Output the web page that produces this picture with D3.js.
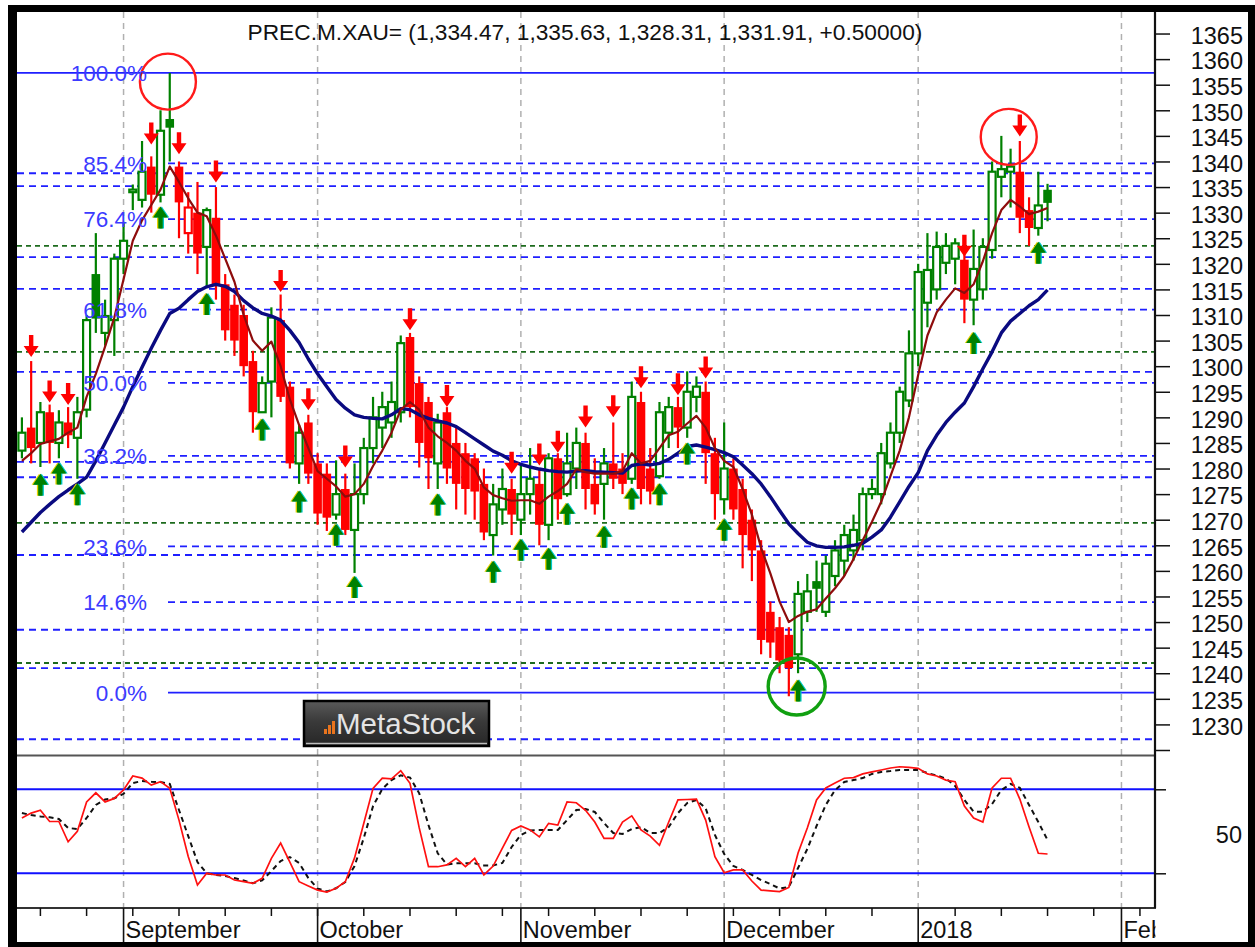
<!DOCTYPE html>
<html>
<head>
<meta charset="utf-8">
<script src="https://cdn.jsdelivr.net/npm/d3@7"></script>
<style>
  body { margin: 0; background: #fff; }
  svg { display: block; }
  text { font-family: Arial, "Liberation Sans", sans-serif; }
</style>
</head>
<body>
<div id="chart"></div>
<script>
// ---------------- data ----------------
const symbol = "PREC.M.XAU=";
const firstDay = "2017-08-17", lastAxisDay = "2018-02-06";
const holidays = ["2018-01-01"];

// daily OHLC, one value per trading day from Aug 17 2017
const opens = [
  1283.5,1288,1285,1291,1285,1289,1286,1291.5,1318,1306.5,
  1309,1321,1334,1332.5,1339,1333.5,1348.3,1339,1326,1330,
  1323.3,1329,1316,1312,1310,1301,1291,1297,1309,1296,
  1281,1289,1281,1279,1271,1276,1268,1275,1284,1288,
  1289,1291,1305.7,1296.7,1293,1281,1291,1285,1283,1282,
  1277,1267,1272,1276,1270,1275,1277,1269,1282,1275,
  1280,1285,1277,1277,1281,1280,1278,1293,1280,1278.5,
  1287,1292,1288,1294,1295,1283,1274,1280,1276,1270,
  1264,1252,1249,1247.5,1243.7,1252,1258,1252,1259,1262,
  1264,1266,1275,1275,1281,1287,1293.3,1302.5,1312.4,1315,
  1320.2,1321,1320.8,1313,1315,1322.7,1337,1338,1338,1330.5,
  1327,1334.47];
const highs = [
  1290,1301,1293,1292.5,1291.4,1292,1294,1310,1326,1313,
  1322,1328,1335.5,1344,1341,1350,1357.3,1340,1334,1336,
  1331,1335,1318,1314,1312,1303,1298,1311.5,1314,1297,
  1288.5,1290.5,1283,1281,1281.6,1279,1281,1286,1294,1295,
  1297,1306,1306.5,1298,1294,1290.7,1292,1288,1285,1283,
  1280,1277,1280,1278,1281,1284,1280,1283,1283,1287,
  1288,1287,1282,1284,1289,1283,1297,1295,1284,1293,
  1294,1294,1299,1298,1297,1286,1289,1282,1278,1272,
  1266,1254,1251,1249,1258,1259.4,1262,1263,1266,1269,
  1271,1276.3,1278,1285,1289,1296,1307,1320,1326,1326.3,
  1326,1325,1322,1326.7,1325,1340,1345,1342.5,1344,1333,
  1338,1335.63];
const lows = [
  1282,1281,1280.3,1281,1282,1284,1278,1290,1306.5,1304,
  1302,1318,1330.5,1331,1330,1332,1340,1325,1322,1318,
  1315.5,1313,1305,1302,1298,1287,1291,1290,1293,1280,
  1277,1277,1269,1267.8,1270,1267,1259.6,1273,1281,1284,
  1286,1289,1290,1280.2,1276,1276,1277,1272,1271,1270,
  1266,1263,1269,1267,1267,1271,1265,1266,1270,1274.5,
  1276,1272,1271,1270,1276,1275,1277,1273,1273,1278,
  1284,1284,1286,1291,1277,1270,1271,1270,1260.5,1258,
  1243.7,1243,1240,1235.5,1240,1250,1252,1251,1257,1259,
  1262,1264,1274,1273,1280,1285,1292,1300,1307.6,1313,
  1318,1316,1308.4,1308,1313,1321,1333,1331,1326,1323.5,
  1325.5,1328.31];
const closes = [
  1287,1284,1291,1285,1289,1286.5,1291,1309,1309.3,1309.8,
  1321,1324.5,1334.5,1338,1333.5,1346,1346.6,1332,1331,1322,
  1330.5,1316,1307,1305,1300,1291,1296.7,1309.5,1294,1281,
  1287,1279,1271.2,1270.4,1275,1268,1275,1284,1290,1292,
  1293,1304.5,1292,1285,1282,1289,1280,1277,1276,1275.5,
  1267.5,1273,1276,1271,1275,1278,1269,1282,1274,1281,
  1285,1276,1273,1281,1278,1277,1294,1276,1275.5,1291,
  1292,1288,1295,1296,1283,1275,1280,1272,1267,1264,
  1246.5,1246,1242.5,1241,1255.5,1256,1256.5,1261.4,1264,1267,
  1268,1275,1276,1283,1287,1295,1302.5,1318.4,1318.8,1323.3,
  1323.5,1324,1313,1319,1323.3,1338,1338.5,1339,1329,1327,
  1331.41,1331.91];

// fast (thin dark red) and slow (thick navy) moving averages, per bar
const fastMA = [
  1281.5,1283,1284.8,1285.3,1285.8,1287,1288,1294,1298.5,1303.8,
  1309.5,1317,1324.5,1328.5,1331.5,1334.5,1339,1336,1332.8,1330,
  1329.3,1325.5,1321,1316.5,1310,1305,1303,1304.8,1300,1293.5,
  1288.5,1284,1279.5,1278,1276.5,1274.5,1275,1277,1280.5,1283.5,
  1287,1291.5,1293,1291.5,1288,1286.3,1285,1283.5,1281.5,1280,
  1276.3,1274.8,1274.2,1273.7,1273.8,1273.8,1273.1,1274.5,1275.6,1277,
  1279.9,1279.3,1279,1279,1279,1279.5,1283,1281,1281.5,1284,
  1286.5,1287.2,1288.8,1290.3,1288,1284,1281.5,1280.3,1276,1271,
  1264.5,1259.5,1254,1250,1251.2,1252,1252.5,1254.6,1256.6,1259,
  1262.3,1266,1269.6,1273.5,1278.5,1283.5,1290,1298.3,1306,1310.5,
  1313,1315.2,1314.3,1316,1320.5,1326,1330.5,1332.5,1331.2,1329.7,
  1330.2,1330.9];
const slowMA = [
  1267.6,1269.5,1271.4,1273,1274.5,1275.8,1277,1278.3,1281.5,1285,
  1288.5,1292,1296,1299.8,1303.5,1307,1310.3,1311.3,1313,1314.6,
  1315.5,1316,1315.6,1314.6,1312.8,1311.4,1310.3,1309.8,1309,1307,
  1304.6,1301.4,1298.5,1296,1293.5,1291.8,1290.5,1290,1289.8,1289.7,
  1290.5,1291.7,1291.5,1290.5,1289.8,1289.3,1288.9,1288.2,1287,1285.8,
  1284.6,1283.4,1282.6,1281.5,1280.8,1280.3,1279.9,1279.6,1279.4,1279.3,
  1279.5,1279.6,1279.4,1279.3,1279.2,1279.1,1280.6,1280.9,1280.7,1281,
  1281.8,1283,1284.3,1284.6,1284.2,1283.7,1283.1,1282.3,1280.7,1279,
  1277,1274.5,1271.8,1269.2,1267.3,1265.6,1264.9,1264.6,1264.6,1264.7,
  1265,1265.4,1266.6,1268,1270.5,1273.5,1276.5,1279.2,1283.5,1286.5,
  1289,1291,1292.8,1296,1299.5,1302.8,1306.5,1308.8,1310.3,1311.8,
  1313,1314.9];

// stochastic oscillator %K (red) and %D (black dashed)
const stochK = [
  59.5,63,65,57,57,42.5,50,71,77.5,71,
  73.5,79.5,89.5,88,83,85.5,80.7,58,32,11.6,
  20,18.8,18.8,15.2,14,12.9,16.4,30.7,41.6,28,
  14,11,8,6.6,9.3,14,31,55.7,80.7,87.9,
  87.4,93.3,84.3,52.4,24.7,24.7,26,30.7,24.7,30.7,
  18.8,25.2,38,50.6,53.8,51,46,55.7,54.5,71,
  70.4,65,56.6,45,45,56.6,61,51,46.6,40,
  56.6,72.4,72.7,72.9,58,31.9,20.4,22.4,22.4,14.5,
  8,7.4,6.9,9.9,34.5,52.4,72.4,81,84.5,87.9,
  88.4,91,92.4,93.8,95.2,96.1,95.6,95,91,89.5,
  86.6,85.4,68,59.5,56.6,81,87.9,87.9,73,53,
  34.3,33.8];
const stochD = [
  63,61.6,60.6,60,58.8,52.4,51.6,59.5,68.8,72.7,
  73.6,76.8,84.5,85.9,85.4,85.2,83.8,65.2,46.6,28,
  20,18.8,18,16.6,14.9,12.9,14.9,21.6,28.8,31.6,
  27.4,16.6,9.1,7,9.3,13.8,25.2,45.2,68,80.2,
  86.6,90,88.4,77.1,54.5,34.3,26.3,27.1,27.1,27.1,
  25.6,25.6,27.4,38.8,47.4,50.6,50.9,50.9,50.9,58,
  65.2,65.9,63.8,55.9,48.8,48.1,51.6,53,48.8,48.8,
  53,63,70.2,72.4,66.4,47.4,33.8,25.2,22.4,18.8,
  15.2,12.4,9.1,10.2,23.8,37.4,53.8,68.8,79.5,85.2,
  86.6,88,91,92.4,93,93.8,93.8,93.8,91.6,89.9,
  87.7,82.4,72.4,64,64,69.5,79.5,83.8,81,68.8,
  56.6,43.8];
const stochBands = [20, 80];

// signal arrows: bar index and price at arrow tip
const sellBars = [1,3,5,14,17,21,28,31,35,42,46,53,56,58,61,64,67,71,74,102,108];
const sellTips = [1301.8,1292.9,1292.4,1343.3,1341.4,1335.9,1314.5,1291.4,1280.2,1307,1292,1279,1280.6,1283.1,1288,1290,1295.7,1294.3,1297.6,1321.4,1344.9];
const buyBars = [2,4,6,15,20,26,30,34,36,45,51,54,57,59,63,66,69,72,76,84,103,110];
const buyTips = [1279,1281.2,1277.1,1331.2,1314.3,1289.8,1275.7,1269.2,1259,1275.1,1262,1266.3,1264.5,1273.3,1268.8,1276.3,1277.1,1285.1,1270.2,1238.8,1306.7,1324.3];

// highlighted turning points: bar position, price, colour
const marks = [
  {k: 15.8, p: 1355.6, c: "#ff1a1a"},
  {k: 106.8, p: 1344.8, c: "#ff1a1a"},
  {k: 83.85, p: 1237.4, c: "#11a011"}
];

// Fibonacci retracement from the Dec low to the Sept high
const fibLow = 1236.2, fibHigh = 1357.3;
const fibPct = [0, 14.6, 23.6, 38.2, 50, 61.8, 76.4, 85.4, 100];
const extraBlue = [1337.7, 1335.2, 1321.3, 1315.1, 1298.9, 1281.3, 1278.3, 1263.1, 1248.5, 1241.0, 1227.1];
const extraGreen = [1323.5, 1302.8, 1269.4, 1242.0];

const months = [
  {label: "September", day: "2017-09-01"},
  {label: "October", day: "2017-10-02"},
  {label: "November", day: "2017-11-01"},
  {label: "December", day: "2017-12-01"},
  {label: "2018", day: "2018-01-02"},
  {label: "February", day: "2018-02-01"}
];

// ---------------- layout ----------------
const W = 1255, H = 947;
const L = 17, R = 1155;
const pTop = 12, pBot = 755, sTop = 757, sBot = 908, axBot = 942;

const parse = d3.timeParse("%Y-%m-%d"), fmt = d3.timeFormat("%Y-%m-%d");
const days = d3.timeDay.range(parse(firstDay), d3.timeDay.offset(parse(lastAxisDay), 1))
  .filter(d => d.getDay() % 6 !== 0 && !holidays.includes(fmt(d)))
  .map(fmt);

const x = d3.scaleBand().domain(days).range([17.3, 1153.8]);
const cx = d => x(d) + x.bandwidth() / 2;
const xk = d3.scaleLinear().domain([0, days.length - 1]).range([cx(days[0]), cx(days[days.length - 1])]);
const y = d3.scaleLinear().domain([1225, 1310]).range([750, 315]);
const ys = d3.scaleLinear().domain([20, 80]).range([873.3, 789.3]);

const bars = closes.map((c, i) => ({
  d: days[i], o: opens[i], h: highs[i], l: lows[i], c,
  up: i === 0 ? c >= opens[i] : c >= closes[i - 1]
}));

const GREEN = "#008000", RED = "#ff0000", BLUE = "#1f1fff";

const svg = d3.select("#chart").append("svg").attr("width", W).attr("height", H);

// frame
svg.append("rect").attr("x", 8).attr("y", 5).attr("width", W - 8).attr("height", H - 5).attr("fill", "#000");
svg.append("rect").attr("x", L).attr("y", pTop).attr("width", 1248 - L).attr("height", axBot - pTop).attr("fill", "#fff");

const defs = svg.append("defs");
defs.append("clipPath").attr("id", "cp").append("rect")
  .attr("x", L).attr("y", pTop).attr("width", R - L).attr("height", pBot - pTop);
defs.append("clipPath").attr("id", "cs").append("rect")
  .attr("x", L).attr("y", sTop).attr("width", R - L).attr("height", sBot - sTop);
defs.append("clipPath").attr("id", "cx").append("rect")
  .attr("x", L).attr("y", sBot).attr("width", R - L + 0.5).attr("height", axBot - sBot);
const grad = defs.append("linearGradient").attr("id", "logo").attr("x1", 0).attr("y1", 0).attr("x2", 0).attr("y2", 1);
grad.append("stop").attr("offset", "0%").attr("stop-color", "#5a5a5a");
grad.append("stop").attr("offset", "45%").attr("stop-color", "#3a3a3a");
grad.append("stop").attr("offset", "100%").attr("stop-color", "#262626");

// month grid lines (both panels)
svg.append("g").selectAll("line").data(months).join("line")
  .attr("x1", d => cx(d.day)).attr("x2", d => cx(d.day))
  .attr("y1", pTop).attr("y2", sBot)
  .attr("stroke", "#b0b0b0").attr("stroke-width", 1.5).attr("stroke-dasharray", "6,5");

// ---------------- price panel ----------------
const pg = svg.append("g").attr("clip-path", "url(#cp)");

pg.append("g").selectAll("line").data(extraBlue).join("line")
  .attr("x1", L).attr("x2", R).attr("y1", d => y(d)).attr("y2", d => y(d))
  .attr("stroke", BLUE).attr("stroke-width", 1.8).attr("stroke-dasharray", "7,5");
pg.append("g").selectAll("line").data(extraGreen).join("line")
  .attr("x1", L).attr("x2", R).attr("y1", d => y(d)).attr("y2", d => y(d))
  .attr("stroke", "#1d6b1d").attr("stroke-width", 1.8).attr("stroke-dasharray", "5,4");

const fib = fibPct.map(p => ({p, v: fibLow + (fibHigh - fibLow) * p / 100}));
pg.append("g").selectAll("line").data(fib).join("line")
  .attr("x1", d => d.p === 100 ? L : 168).attr("x2", R)
  .attr("y1", d => y(d.v)).attr("y2", d => y(d.v))
  .attr("stroke", BLUE).attr("stroke-width", 1.8)
  .attr("stroke-dasharray", d => (d.p === 0 || d.p === 100) ? null : "7,5");

// candles: hollow when close > open, colour by close vs previous close
const cg = pg.append("g");
cg.selectAll("line").data(bars).join("line")
  .attr("x1", d => cx(d.d)).attr("x2", d => cx(d.d))
  .attr("y1", d => y(d.h)).attr("y2", d => y(d.l))
  .attr("stroke", d => d.up ? GREEN : RED).attr("stroke-width", 2.2);
cg.selectAll("rect").data(bars).join("rect")
  .attr("x", d => d.c > d.o ? cx(d.d) - 3.5 : cx(d.d) - 4.3)
  .attr("width", d => d.c > d.o ? 7 : 8.6)
  .attr("y", d => y(Math.max(d.o, d.c)))
  .attr("height", d => Math.max(1.5, Math.abs(y(d.o) - y(d.c))))
  .attr("fill", d => d.c > d.o ? "#fff" : (d.up ? GREEN : RED))
  .attr("stroke", d => d.c > d.o ? (d.up ? GREEN : RED) : "none")
  .attr("stroke-width", 2.2);

// moving averages
const maLine = d3.line().x((v, i) => cx(days[i])).y(v => y(v));
pg.append("path").attr("d", maLine(slowMA)).attr("fill", "none")
  .attr("stroke", "#0a0a80").attr("stroke-width", 3.4).attr("stroke-linejoin", "round");
pg.append("path").attr("d", maLine(fastMA)).attr("fill", "none")
  .attr("stroke", "#8e0c0c").attr("stroke-width", 2.2).attr("stroke-linejoin", "round");

// arrows
const downArrow = "M-2.2,-22H2.2V-11H7.5L0,0L-7.5,-11H-2.2Z";
const upArrow = "M-2.2,22H2.2V11H7.5L0,0L-7.5,11H-2.2Z";
const ag = pg.append("g");
ag.selectAll("path.s").data(sellBars).join("path").attr("class", "s")
  .attr("d", downArrow).attr("fill", RED)
  .attr("transform", (k, i) => `translate(${cx(days[k])},${y(sellTips[i])})`);
[["#e8d000", -1.3], ["#00c8c8", 1.3], [GREEN, 0]].forEach(([col, dx]) => {
  ag.append("g").selectAll("path").data(buyBars).join("path")
    .attr("d", upArrow).attr("fill", col)
    .attr("transform", (k, i) => `translate(${cx(days[k]) + dx},${y(buyTips[i])})`);
});

// circles
pg.append("g").selectAll("circle").data(marks).join("circle")
  .attr("cx", d => xk(d.k)).attr("cy", d => y(d.p))
  .attr("r", d => d.c === "#11a011" ? 28.5 : 28)
  .attr("fill", "none").attr("stroke", d => d.c)
  .attr("stroke-width", d => d.c === "#11a011" ? 3.4 : 2.4);

// fib labels
pg.append("g").selectAll("text").data(fib).join("text")
  .attr("x", 147).attr("y", d => y(d.v)).attr("dy", "0.36em")
  .attr("text-anchor", "end").attr("font-size", 22.5).attr("fill", "#3b3bff")
  .text(d => d3.format(".1f")(d.p) + "%");

// title
const n = closes.length;
const f2 = d3.format(",.2f");
svg.append("text").attr("x", 585).attr("y", 40).attr("text-anchor", "middle")
  .attr("font-size", 22.7).attr("fill", "#111")
  .text(`${symbol} (${f2(opens[n - 1])}, ${f2(highs[n - 1])}, ${f2(lows[n - 1])}, ${f2(closes[n - 1])}, ${d3.format("+.5f")(closes[n - 1] - closes[n - 2])})`);

// MetaStock badge
const logo = svg.append("g");
logo.append("rect").attr("x", 304).attr("y", 701).attr("width", 185).attr("height", 45)
  .attr("fill", "url(#logo)").attr("stroke", "#000").attr("stroke-width", 2.5);
logo.append("line").attr("x1", 306).attr("x2", 487).attr("y1", 743.5).attr("y2", 743.5)
  .attr("stroke", "#bdbdbd").attr("stroke-width", 1.5);
[5, 9, 13].forEach((h, i) => logo.append("rect")
  .attr("x", 324 + i * 4).attr("y", 734 - h).attr("width", 3).attr("height", h).attr("fill", "#e8741e"));
logo.append("text").attr("x", 336).attr("y", 734).attr("font-size", 29.5)
  .attr("fill", "#e4e4e4").text("MetaStock");

// ---------------- stochastic panel ----------------
const sg = svg.append("g").attr("clip-path", "url(#cs)");
sg.selectAll("line").data(stochBands).join("line")
  .attr("x1", L).attr("x2", R).attr("y1", d => ys(d)).attr("y2", d => ys(d))
  .attr("stroke", "#1010ff").attr("stroke-width", 2);
const sLine = d3.line().x((v, i) => cx(days[i])).y(v => ys(v));
sg.append("path").attr("d", sLine(stochD)).attr("fill", "none")
  .attr("stroke", "#111").attr("stroke-width", 2).attr("stroke-dasharray", "5,4");
sg.append("path").attr("d", sLine(stochK)).attr("fill", "none")
  .attr("stroke", "#ff1010").attr("stroke-width", 1.7);

// panel borders
svg.append("line").attr("x1", L).attr("x2", R).attr("y1", pBot + 0.5).attr("y2", pBot + 0.5)
  .attr("stroke", "#555").attr("stroke-width", 2.2);
svg.append("line").attr("x1", L).attr("x2", R + 1).attr("y1", sBot).attr("y2", sBot)
  .attr("stroke", "#333").attr("stroke-width", 2);
svg.append("line").attr("x1", R).attr("x2", R).attr("y1", pTop).attr("y2", sBot)
  .attr("stroke", "#111").attr("stroke-width", 2.2);

// price axis
const pAxis = svg.append("g").attr("transform", `translate(${R},0)`);
pAxis.call(d3.axisRight(y).tickValues(d3.range(1224, 1370)).tickSize(7).tickFormat(""));
pAxis.call(d3.axisRight(y).tickValues(d3.range(1225, 1370, 5)).tickSize(15).tickFormat(""));
pAxis.selectAll(".domain").remove();
pAxis.selectAll("line").attr("stroke", "#111").attr("stroke-width", 1.5);
pAxis.append("g").selectAll("text").data(d3.range(1230, 1366, 5)).join("text")
  .attr("x", 1243 - R).attr("y", d => y(d) + 2).attr("dy", "0.35em")
  .attr("text-anchor", "end").attr("font-size", 23.5).attr("fill", "#111").text(d => d);

// stochastic axis
const sAxis = svg.append("g").attr("transform", `translate(${R},0)`);
sAxis.call(d3.axisRight(ys).tickValues(d3.range(0, 101, 10)).tickSize(8).tickFormat(""));
sAxis.call(d3.axisRight(ys).tickValues([0, 50, 100]).tickSize(15).tickFormat(""));
sAxis.call(d3.axisRight(ys).tickValues([20, 80]).tickSize(11).tickFormat(""));
sAxis.selectAll(".domain").remove();
sAxis.selectAll("line").attr("stroke", "#111").attr("stroke-width", 1.5);
sAxis.append("text").attr("x", 1242 - R).attr("y", ys(50) + 3).attr("dy", "0.35em")
  .attr("text-anchor", "end").attr("font-size", 23.5).attr("fill", "#111").text("50");

// time axis: weekly ticks on Mondays, month separators and labels
const xa = svg.append("g");
xa.selectAll("line.w").data(days.filter(d => parse(d).getDay() === 1)).join("line").attr("class", "w")
  .attr("x1", d => cx(d)).attr("x2", d => cx(d)).attr("y1", sBot).attr("y2", sBot + 8)
  .attr("stroke", "#111").attr("stroke-width", 1.5);
xa.selectAll("line.m").data(months).join("line").attr("class", "m")
  .attr("x1", d => cx(d.day)).attr("x2", d => cx(d.day)).attr("y1", sBot).attr("y2", axBot)
  .attr("stroke", "#111").attr("stroke-width", 1.6);
xa.append("g").attr("clip-path", "url(#cx)").selectAll("text").data(months).join("text")
  .attr("x", d => cx(d.day) + 2).attr("y", 938)
  .attr("font-size", 23.5).attr("fill", "#111").text(d => d.label);
</script>
</body>
</html>
